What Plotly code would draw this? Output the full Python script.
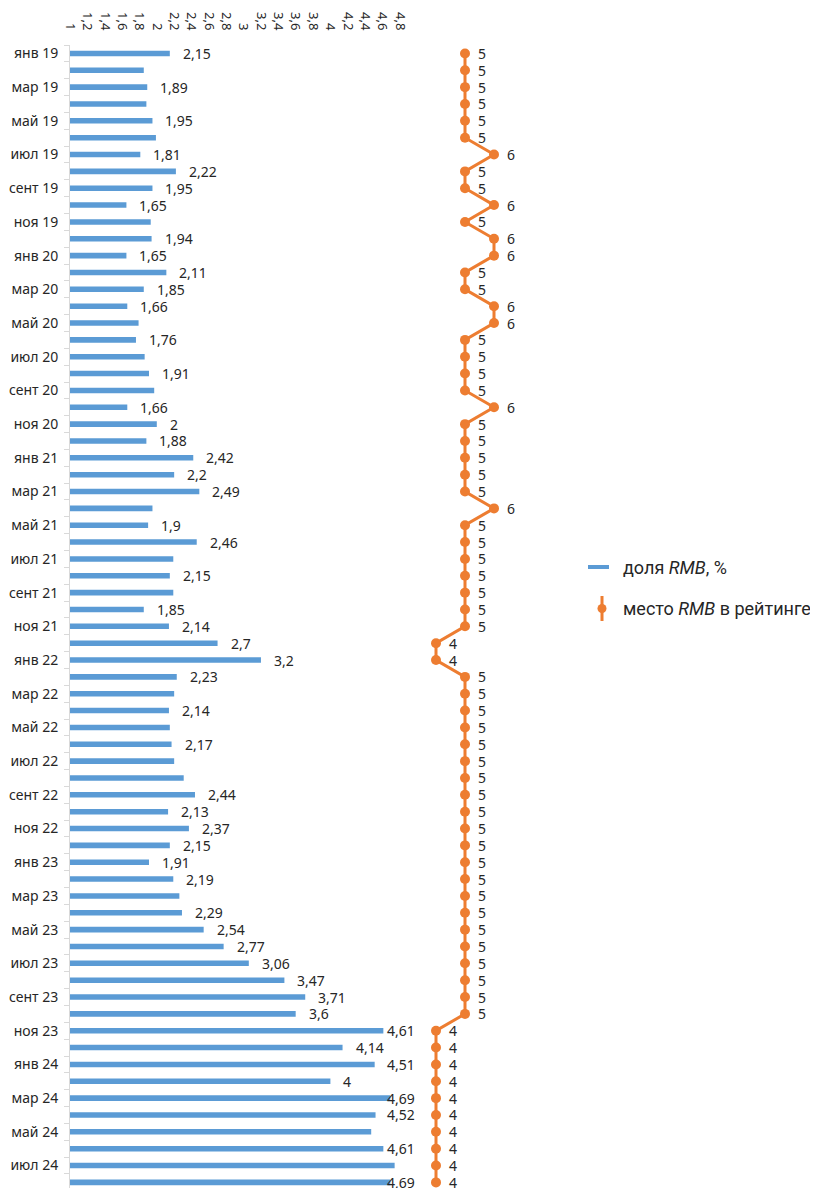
import plotly.graph_objects as go

# ---------------- data ----------------
month_abbr = ["янв", "фев", "мар", "апр", "май", "июн", "июл", "авг", "сент", "окт", "ноя", "дек"]
years = ["19", "20", "21", "22", "23", "24"]
months = [f"{m} {y}" for y in years for m in month_abbr][:68]  # янв 19 … авг 24

share = [2.15, 1.85, 1.89, 1.88, 1.95, 1.99, 1.81, 2.22, 1.95, 1.65,
         1.93, 1.94, 1.65, 2.11, 1.85, 1.66, 1.79, 1.76, 1.86, 1.91,
         1.97, 1.66, 2.00, 1.88, 2.42, 2.20, 2.49, 1.95, 1.90, 2.46,
         2.19, 2.15, 2.19, 1.85, 2.14, 2.70, 3.20, 2.23, 2.20, 2.14,
         2.15, 2.17, 2.20, 2.31, 2.44, 2.13, 2.37, 2.15, 1.91, 2.19,
         2.26, 2.29, 2.54, 2.77, 3.06, 3.47, 3.71, 3.60, 4.61, 4.14,
         4.51, 4.00, 4.69, 4.52, 4.47, 4.61, 4.74, 4.69]

# which bars carry a data label in the original
share_labeled = [1, 0, 1, 0, 1, 0, 1, 1, 1, 1,
                 0, 1, 1, 1, 1, 1, 0, 1, 0, 1,
                 0, 1, 1, 1, 1, 1, 1, 0, 1, 1,
                 0, 1, 0, 1, 1, 1, 1, 1, 0, 1,
                 0, 1, 0, 0, 1, 1, 1, 1, 1, 1,
                 0, 1, 1, 1, 1, 1, 1, 1, 1, 1,
                 1, 1, 1, 1, 0, 1, 0, 1]

rank = [5, 5, 5, 5, 5, 5, 6, 5, 5, 6,
        5, 6, 6, 5, 5, 6, 6, 5, 5, 5,
        5, 6, 5, 5, 5, 5, 5, 6, 5, 5,
        5, 5, 5, 5, 5, 4, 4, 5, 5, 5,
        5, 5, 5, 5, 5, 5, 5, 5, 5, 5,
        5, 5, 5, 5, 5, 5, 5, 5, 4, 4,
        4, 4, 4, 4, 4, 4, 4, 4]

x_ticks = [1, 1.2, 1.4, 1.6, 1.8, 2, 2.2, 2.4, 2.6, 2.8, 3, 3.2, 3.4,
           3.6, 3.8, 4, 4.2, 4.4, 4.6, 4.8]

legend_names = ["доля <i>RMB</i>, %", "место <i>RMB</i> в рейтинге"]

# ---------------- style ----------------
BLUE = "#5B9BD5"
ORANGE = "#ED7D31"
TXT = "#262626"
OFF = 8                       # default page body margin
W, H = 818 - OFF, 1188 - OFF
ML, MT, MB = 70 - OFF, 45 - OFF, 0
PLOT_RIGHT = 530 - OFF
MR = W - PLOT_RIGHT
PW, PH = W - ML - MR, H - MT - MB
ROW_PX = 16.85
PX_PER_UNIT = 86.8       # main axis scale
PX_PER_RANK = 29.0       # secondary axis scale
RANK_REF_PX = 366        # pixel (from plot left) of rank 4

def fmt(v):
    return f"{v:g}".replace(".", ",")

idx = list(range(len(months)))

fig = go.Figure()
fig.add_trace(go.Bar(
    y=idx, x=share, orientation="h",
    marker=dict(color=BLUE, line=dict(width=0)),
    width=0.33, showlegend=False, hoverinfo="x+y",
))
fig.add_trace(go.Scatter(
    y=idx, x=rank, xaxis="x2", yaxis="y",
    mode="lines+markers",
    line=dict(color=ORANGE, width=3),
    marker=dict(color=ORANGE, size=10),
    showlegend=False, cliponaxis=False,
))

LABEL_FONT = dict(family="Noto Sans", size=14, color=TXT)

# rank data labels
for i, r in enumerate(rank):
    fig.add_annotation(
        x=r, y=i, xref="x2", yref="y", text=str(r), showarrow=False,
        xanchor="left", yanchor="middle", xshift=11, font=LABEL_FONT,
    )

# bar data labels
cap = 4.50
for i, (v, show) in enumerate(zip(share, share_labeled)):
    if show:
        fig.add_annotation(
            x=min(v, cap), y=i, xref="x", yref="y",
            text=fmt(v), showarrow=False, xanchor="left", yanchor="middle",
            xshift=11, font=LABEL_FONT,
        )

# ---------------- manual legend ----------------
def px(xp):
    return (xp - OFF - ML) / PW

def py(yp):
    return (H - MB - (yp - OFF)) / PH

fig.add_shape(type="line", xref="paper", yref="paper",
              x0=px(588), x1=px(609), y0=py(567), y1=py(567),
              line=dict(color=BLUE, width=4))
fig.add_shape(type="line", xref="paper", yref="paper",
              x0=px(602), x1=px(602), y0=py(596), y1=py(621),
              line=dict(color=ORANGE, width=3))
fig.add_shape(type="circle", xref="paper", yref="paper",
              x0=px(597.5), x1=px(606.5), y0=py(604), y1=py(613),
              fillcolor=ORANGE, line=dict(color=ORANGE, width=0))
for name, yy in zip(legend_names, [567, 608]):
    fig.add_annotation(x=px(621), y=py(yy), xref="paper", yref="paper",
                       text=name, showarrow=False, xanchor="left", yanchor="middle",
                       font=dict(family="Roboto", size=18, color=TXT))

r2_0 = 4 - RANK_REF_PX / PX_PER_RANK
fig.update_layout(
    width=W, height=H,
    margin=dict(l=ML, r=MR, t=MT, b=MB, pad=0),
    plot_bgcolor="white", paper_bgcolor="white",
    xaxis=dict(
        side="top", range=[1, 1 + PW / PX_PER_UNIT],
        tickvals=x_ticks, ticktext=[fmt(t) for t in x_ticks],
        tickangle=90, showgrid=False, zeroline=False, showline=False,
        ticks="outside", ticklen=9, tickcolor="rgba(0,0,0,0)",
        tickfont=dict(family="Noto Sans", size=13, color=TXT),
    ),
    xaxis2=dict(
        overlaying="x", side="top", visible=False,
        range=[r2_0, r2_0 + PW / PX_PER_RANK],
    ),
    yaxis=dict(
        range=[-0.5 + PH / ROW_PX, -0.5],
        tickvals=idx[::2], ticktext=months[::2],
        showgrid=False, zeroline=False,
        showline=True, linecolor="#D9D9D9", linewidth=1,
        ticks="outside", ticklen=8, tickcolor="rgba(0,0,0,0)",
        minor=dict(tick0=-0.5, dtick=1, ticks="outside", ticklen=5,
                   tickcolor="#D9D9D9", showgrid=False),
        tickfont=dict(family="Noto Sans", size=14, color=TXT),
    ),
    showlegend=False,
)

fig.write_html("out.html")
